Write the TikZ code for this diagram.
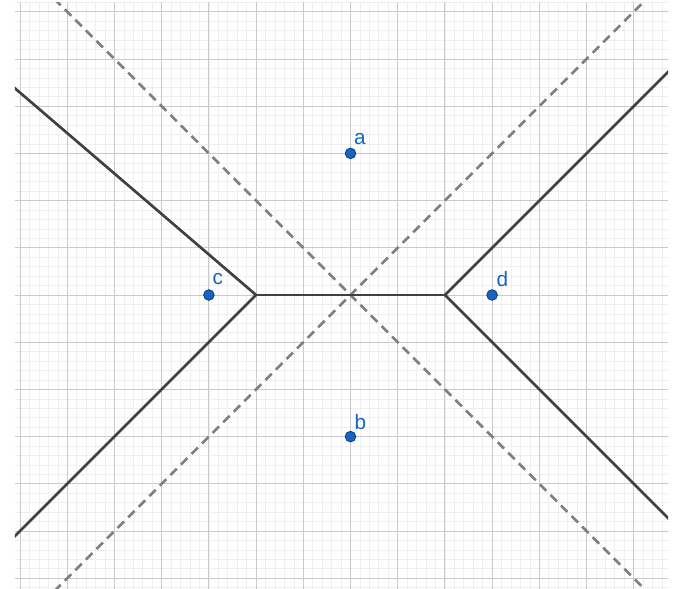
\documentclass[tikz,border=0pt]{standalone}
\usepackage{fontspec}
\setmainfont{Liberation Sans}
\definecolor{ptblue}{HTML}{1565C0}
\definecolor{ptedge}{HTML}{0D3F7A}
\definecolor{solidgray}{HTML}{404040}
\definecolor{dashgray}{HTML}{808080}
\definecolor{majorgrid}{HTML}{CBCBCB}
\definecolor{minorgrid}{HTML}{EFEFEF}
\tikzset{
  pt/.style={circle, fill=ptblue, draw=ptedge, line width=0.5pt, inner sep=0pt, minimum size=6.4pt},
  ptlabel/.style={text=ptblue, font=\fontsize{12.5}{14}\selectfont, inner sep=0pt},
  cell/.style={line width=1.6pt, draw=solidgray},
  bisector/.style={line width=1.5pt, draw=dashgray, dash pattern=on 5.5pt off 3.5pt},
}
\begin{document}
\begin{tikzpicture}
\useasboundingbox (-7.426,-6.208) rectangle (6.875,6.25);
\begin{scope}
\clip (-7.11,-6.21) rectangle (6.73,6.19);
\draw[minorgrid, line width=0.4pt, step=0.2] (-7.4,-6.4) grid (7,6.4);
\draw[majorgrid, line width=0.55pt, step=1] (-8,-7) grid (7,7);
% dashed bisectors
\coordinate (O) at (0,0);
\coordinate (dUL) at (-6.5,6.5);
\coordinate (dLR) at (6.5,-6.5);
\coordinate (dLL) at (-6.5,-6.5);
\coordinate (dUR) at (6.5,6.5);
\draw[bisector] (dUL) -- (dLR);
\draw[bisector] (dLL) -- (dUR);
% solid cell boundaries
\coordinate (V1) at (-2,0);
\coordinate (V2) at (2,0);
\coordinate (eUL) at (-7.3,4.543);
\coordinate (eLL) at (-7.3,-5.3);
\coordinate (eUR) at (7,5);
\coordinate (eLR) at (7,-5);
\draw[cell, line join=round] (eUL) -- (V1) -- (eLL);
\draw[cell] (V1) -- (V2);
\draw[cell, line join=round] (eUR) -- (V2) -- (eLR);
\end{scope}
% points
\node[pt] (a) at (0,3) {};
\node[pt] (b) at (0,-3) {};
\node[pt] (c) at (-3,0) {};
\node[pt] (d) at (3,0) {};
\node[ptlabel] (la) at (0.2,3.31) {a};
\node[ptlabel] (lb) at (0.21,-2.69) {b};
\node[ptlabel] (lc) at (-2.81,0.33) {c};
\node[ptlabel] (ld) at (3.22,0.34) {d};
\end{tikzpicture}
\end{document}
